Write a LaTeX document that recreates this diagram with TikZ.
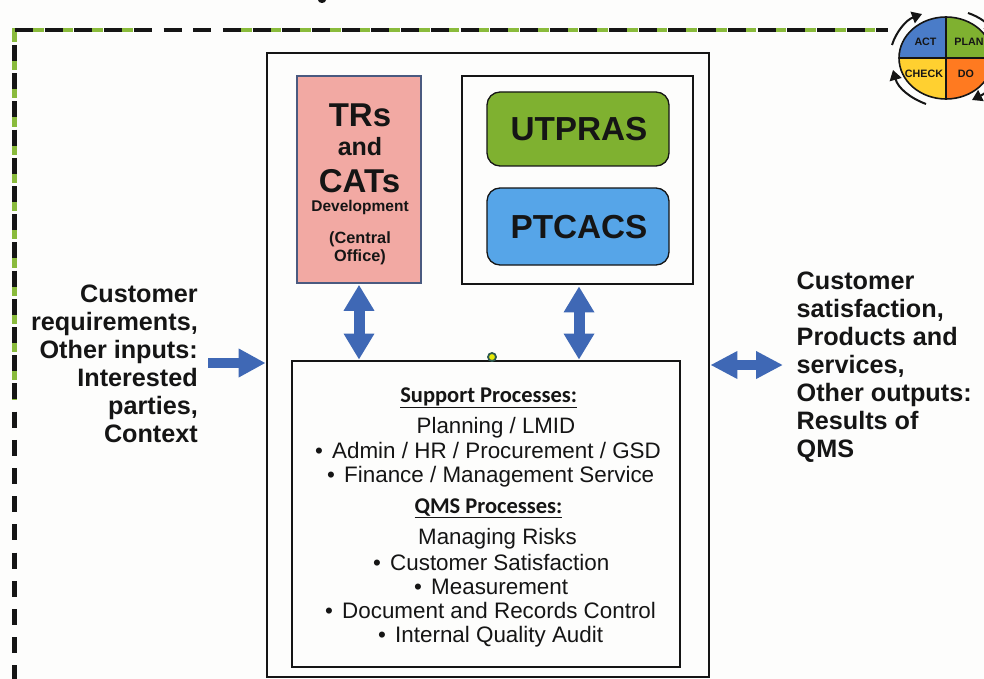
\documentclass[tikz,border=0pt]{standalone}
\usepackage{fontspec}
\setmainfont{Liberation Sans}
\newfontfamily\carlitofont{Carlito}
\usetikzlibrary{arrows.meta,calc}
\definecolor{pagebg}{HTML}{FDFDFC}
\definecolor{pinkbox}{HTML}{F2A9A3}
\definecolor{grn}{HTML}{7FB130}
\definecolor{blu}{HTML}{56A5E8}
\definecolor{arrowb}{HTML}{3F68B5}
\definecolor{inkb}{HTML}{151515}
\definecolor{bordg}{HTML}{8ABB3C}
\definecolor{pinkedge}{HTML}{4A5A80}
\definecolor{wheelb}{HTML}{4A7CC8}
\definecolor{wheely}{HTML}{FFD030}
\definecolor{wheelo}{HTML}{FF7A20}
\definecolor{dotring}{HTML}{2F5A50}
\newcommand{\sz}[2]{\fontsize{#1}{#2}\selectfont}
\newcommand{\bul}{\makebox[17pt][l]{•}}
\tikzset{
 bluearrow/.style={draw=arrowb,line width=9.5pt,-{Triangle[length=27pt,width=27pt]}},
 blueh/.style={draw=arrowb,line width=9.5pt,{Triangle[length=27pt,width=26pt]}-{Triangle[length=27pt,width=26pt]}},
 bluev/.style={draw=arrowb,line width=11pt,{Triangle[length=26pt,width=29pt]}-{Triangle[length=26pt,width=29pt]}},
 side/.style={inner sep=0pt,font=\bfseries\sz{25.2}{28},text=inkb},
 slab/.style={inner sep=0pt,text=inkb},
 proc/.style={slab,anchor=base west,font=\sz{22.4}{24}},
 plain/.style={slab,anchor=base,font=\sz{22.3}{24}},
 subt/.style={slab,anchor=base,font=\carlitofont\bfseries\sz{22.5}{24}},
 pinkt/.style={slab,anchor=base,font=\bfseries\sz{#1}{#1}},
 phase/.style={inner sep=0pt,font=\bfseries\sz{10.7}{11},text=inkb},
 cyc/.style={draw=inkb,line width=2pt,-{Triangle[length=10pt,width=12pt]}},
 greendash/.style={bordg,line width=#1,dash pattern=on 11pt off 18.7pt},
 blackdash/.style={inkb,line width=#1,dash pattern=on 18pt off 11.7pt}
}
\begin{document}
\begin{tikzpicture}[x=1pt,y=-1pt]
\useasboundingbox (0,0) rectangle (984,679);
\fill[pagebg] (0,0) rectangle (984,679);
\fill[inkb] (322,0) ellipse (4 and 3);
% quality-management boundary
\draw[greendash=4pt] (32.5,30) -- (135,30);
\draw[greendash=4pt] (240.5,30) -- (888,30);
\draw[bordg,line width=5pt,dash pattern=on 14pt off 14.2pt] (14.5,28) -- (14.5,400);
\draw[blackdash=4pt] (15,30) -- (888,30);
\draw[inkb,line width=5pt,dash pattern=on 16pt off 12.2pt] (14.5,45) -- (14.5,679);
% boxes
\node[draw=inkb,line width=2.8pt,minimum width=442pt,minimum height=624pt,inner sep=0pt] (main) at (488,365) {};
\node[draw=pinkedge,line width=1.6pt,fill=pinkbox,minimum width=124pt,minimum height=207pt,inner sep=0pt] (tr) at (359,179.5) {};
\node[draw=inkb,line width=2.8pt,minimum width=231pt,minimum height=208pt,inner sep=0pt] (tools) at (577.5,180) {};
\node[draw=inkb,line width=1.3pt,fill=grn,rounded corners=13pt,minimum width=182pt,minimum height=74pt,inner sep=0pt] (utpras) at (578,129) {};
\node[draw=inkb,line width=1.3pt,fill=blu,rounded corners=13pt,minimum width=182pt,minimum height=77pt,inner sep=0pt] (ptcacs) at (578,226.5) {};
\node[slab,anchor=base,font=\bfseries\sz{33.3}{34}] (utext) at (579,141) {UTPRAS};
\node[slab,anchor=base,font=\bfseries\sz{33.3}{34}] (ptext) at (579,238) {PTCACS};
\node[draw=inkb,line width=2.8pt,minimum width=388pt,minimum height=306pt,inner sep=0pt] (proc) at (486,514) {};
% pink box text
\node[pinkt=33] (t1) at (360,127) {TRs};
\node[pinkt=25] (t2) at (360,156) {and};
\node[pinkt=33] (t3) at (359.5,192) {CATs};
\node[pinkt=15.5] (t4) at (360,211) {Development};
\node[pinkt=16.3] (t5) at (360,243) {(Central};
\node[pinkt=16.3] (t6) at (360,261) {Office)};
% process text
\node[subt] (sp) at (488.7,402) {\underline{Support Processes:}};
\node[plain] (pl1) at (496,433) {Planning / LMID};
\node[proc] (pl2) at (315,458) {\bul Admin / HR / Procurement / GSD};
\node[proc] (pl3) at (327,482) {\bul Finance / Management Service};
\node[subt] (qm) at (488.5,513) {\underline{QMS Processes:}};
\node[plain] (q1) at (497.5,544) {Managing Risks};
\node[proc] (q2) at (373,570) {\bul Customer Satisfaction};
\node[proc] (q3) at (414,594) {\bul Measurement};
\node[proc] (q4) at (325,618) {\bul Document and Records Control};
\node[proc] (q5) at (378,642) {\bul Internal Quality Audit};
% side labels
\node[side,align=right,anchor=east] (inp) at (198,364) {Customer\\requirements,\\Other inputs:\\Interested\\parties,\\Context};
\node[side,align=left,anchor=west] (out) at (796.5,367) {Customer\\satisfaction,\\Products and\\services,\\Other outputs:\\Results of\\QMS};
% connectors
\coordinate (c1) at ($(tr.south)+(0,1)$);
\coordinate (c2) at (tr.south |- proc.north);
\coordinate (c3) at ($(tools.south)+(1.5,1)$);
\coordinate (c4) at (c3 |- proc.north);
\draw[bluev] (c1) -- (c2);
\draw[bluev] (c3) -- (c4);
\coordinate (i0) at (208,363);
\coordinate (o0) at (783,365);
\draw[bluearrow] (i0) -- (i0 -| main.west);
\draw[blueh] (main.east |- o0) -- (o0);
% small marker
\node[circle,draw=dotring,fill=yellow!90!green,line width=1.8pt,minimum size=8pt,inner sep=0pt] (dot) at (492,357) {};
% PDCA wheel
\begin{scope}
\clip (860,0) rectangle (984,110);
\fill[wheelb] (946,58) -- (899,58) arc[start angle=180,end angle=90,x radius=47,y radius=-41] -- cycle;
\fill[grn] (946,58) -- (946,17) arc[start angle=90,end angle=0,x radius=47,y radius=-41] -- cycle;
\fill[wheely] (946,58) -- (899,58) arc[start angle=180,end angle=270,x radius=47,y radius=-41] -- cycle;
\fill[wheelo] (946,58) -- (993,58) arc[start angle=0,end angle=-90,x radius=47,y radius=-41] -- cycle;
\draw[inkb,line width=1.6pt] (946,58) ellipse (47 and 41);
\draw[inkb,line width=1.6pt] (899,58) -- (993,58) (946,17) -- (946,99);
\node[phase] (act) at (925.5,42) {ACT};
\node[phase] (plan) at (969,42) {PLAN};
\node[phase] (check) at (924,74) {CHECK};
\node[phase] (do) at (966,74) {DO};
\draw[cyc] (892,45) .. controls (896,32) and (906,20) .. (922,14);
\draw[cyc] (968,13) .. controls (980,17) and (988,24) .. (994,34);
\draw[cyc] (926,104) .. controls (910,98) and (898,88) .. (893,70);
\draw[cyc] (994,84) .. controls (990,90) and (984,94) .. (972,100);
\end{scope}
\end{tikzpicture}
\end{document}
